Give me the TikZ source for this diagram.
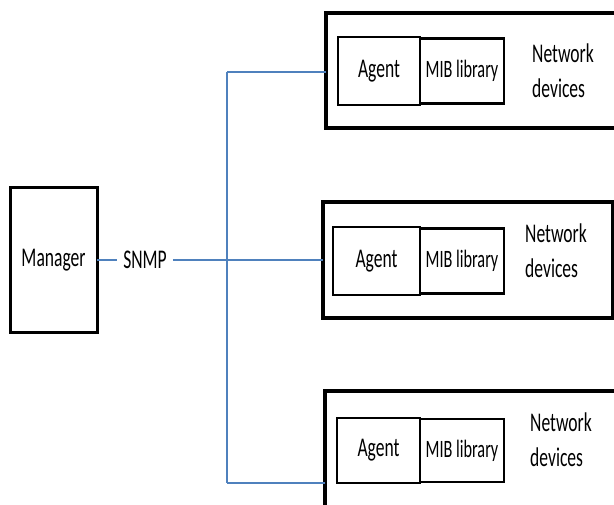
\documentclass[tikz,border=0pt]{standalone}
\usepackage{fontspec}
\setmainfont{Carlito}[FakeStretch=0.65]
\usetikzlibrary{positioning}
\definecolor{linkblue}{RGB}{79,129,189}

\begin{document}
\begin{tikzpicture}[x=1pt, y=-1pt,
  mgrbox/.style={draw, line width=3pt, minimum width=87pt, minimum height=145pt,
    outer sep=0pt, font=\fontsize{27}{32}\selectfont},
  devbox/.style={draw, line width=3.2pt, minimum width=300pt, minimum height=115pt,
    anchor=north west, outer sep=0pt},
  agentbox/.style={draw, line width=2.8pt, minimum width=84pt, minimum height=68pt,
    inner sep=2pt, outer sep=0pt, font=\fontsize{27}{32}\selectfont},
  mibbox/.style={draw, line width=2.8pt, minimum width=84pt, minimum height=65pt,
    inner sep=2pt, outer sep=0pt, font=\fontsize{25}{30}\selectfont},
  lab/.style={inner xsep=6pt, font=\fontsize{27}{32}\selectfont},
  devlab/.style={align=left, inner sep=0pt, font=\fontsize{27}{35}\selectfont},
  link/.style={draw=linkblue, line width=1.8pt}
]
\clip (0,0) rectangle (614,505);
\fill[white] (0,0) rectangle (614,505);

% manager side
\node[mgrbox] (mgr) at (53.5,260) {Manager};
\node[lab] (snmp) at (145,260) {SNMP};

% network devices
\node[devbox] (dev1) at (326,13) {};
\node[devbox, minimum width=290pt, minimum height=116pt] (dev2) at (323,202) {};
\node[devbox, minimum height=130pt] (dev3) at (325,391) {};

\node[agentbox, minimum width=82pt] (agent1) at (379,71) {Agent};
\node[mibbox, right=0pt of agent1] (mib1) {MIB library};
\node[devlab, right=28pt of mib1] (net1) {Network\\devices};

\node[agentbox, minimum width=87pt] (agent2) at (376.5,261) {Agent};
\node[mibbox, right=0pt of agent2] (mib2) {MIB library};
\node[devlab, right=21pt of mib2, yshift=10pt] (net2) {Network\\devices};

\node[agentbox, minimum width=83pt, minimum height=65pt] (agent3) at (378.5,450.5) {Agent};
\node[mibbox, minimum height=63pt, right=0pt of agent3] (mib3) {MIB library};
\node[devlab, right=26pt of mib3, yshift=11pt] (net3) {Network\\devices};

% SNMP bus
\coordinate (bustop) at (227,72);
\coordinate (busbot) at (227,483);
\draw[link] (mgr.east) -- (snmp.west);
\draw[link] (snmp.east) -- (dev2.west);
\draw[link] (bustop) -- (busbot);
\draw[link] (bustop) -- (dev1.west |- bustop);
\draw[link] (busbot) -- (dev3.west |- busbot);
\end{tikzpicture}
\end{document}
